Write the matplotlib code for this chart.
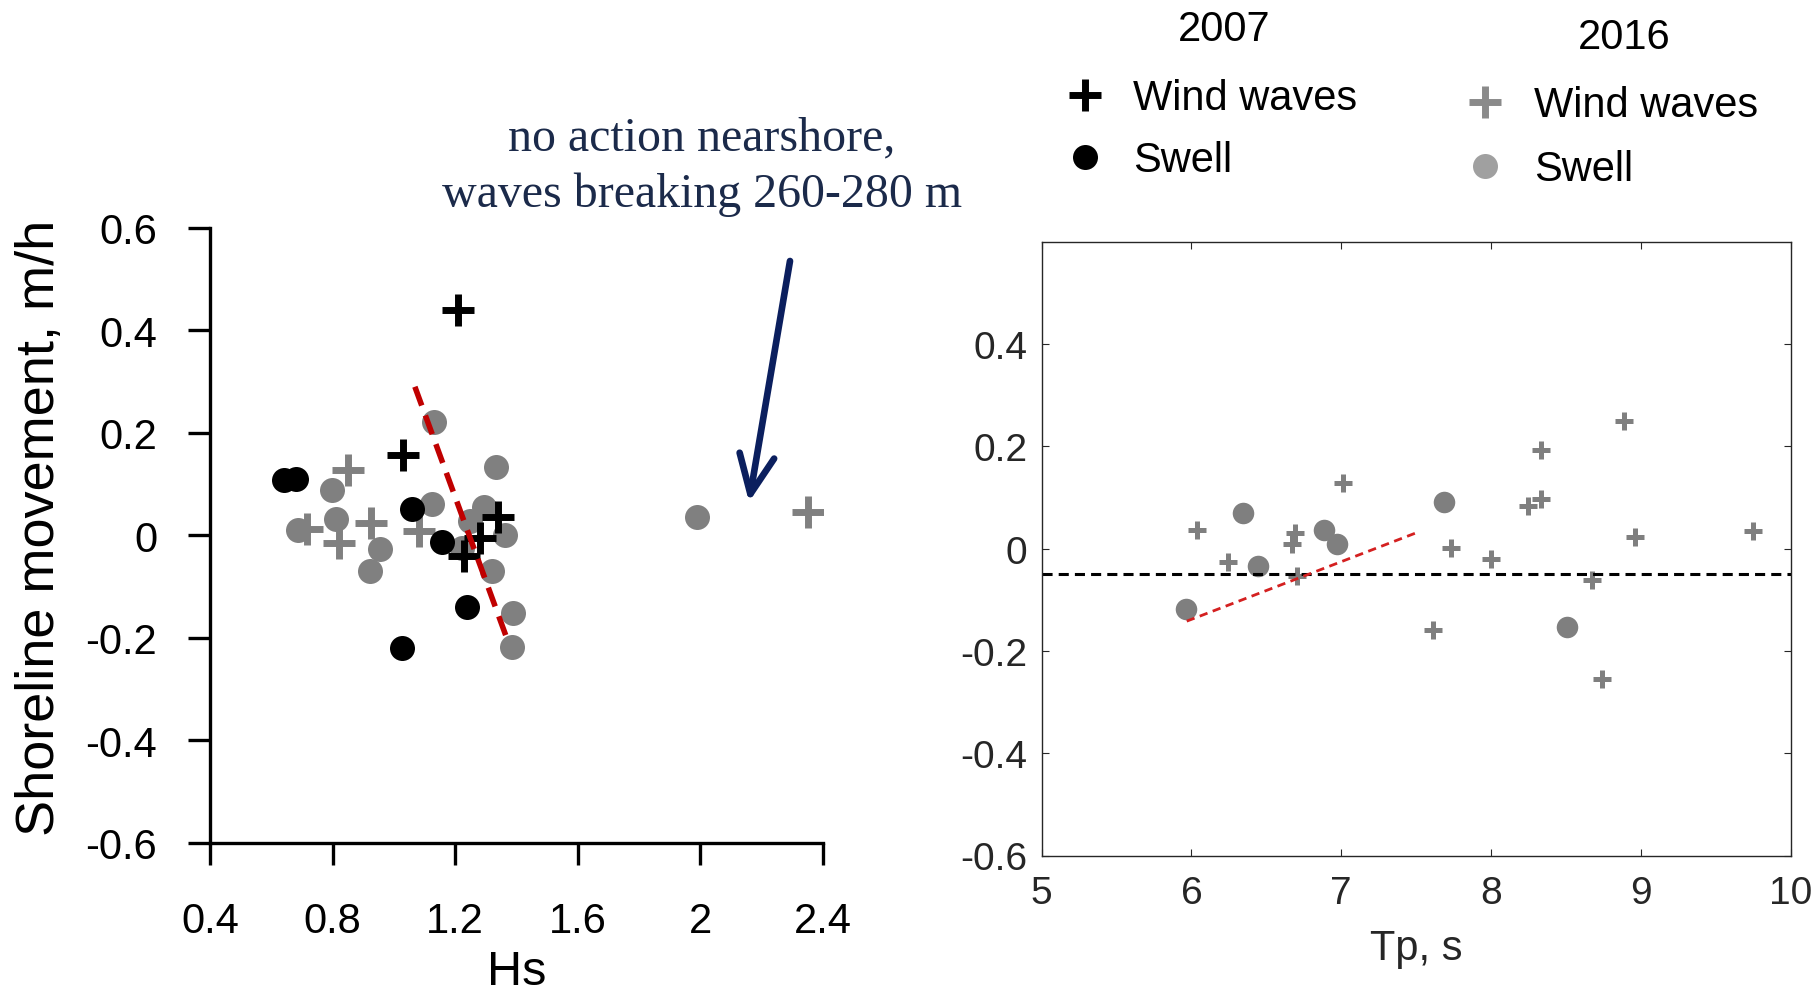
import matplotlib
matplotlib.use("Agg")
import matplotlib.pyplot as plt

plt.rcParams["font.family"] = ["Liberation Sans", "DejaVu Sans"]
plt.rcParams["axes.unicode_minus"] = False

# ---- Shoreline movement vs significant wave height (Hs) ----
hs_wind_2007 = [1.21, 1.03, 1.34, 1.28, 1.23]
sm_wind_2007 = [0.44, 0.157, 0.036, -0.006, -0.04]
hs_swell_2007 = [0.64, 0.68, 1.06, 1.156, 1.24, 1.028]
sm_swell_2007 = [0.107, 0.109, 0.052, -0.014, -0.141, -0.221]
hs_wind_2016 = [0.852, 0.716, 0.821, 0.926, 1.082, 2.354]
sm_wind_2016 = [0.127, 0.013, -0.016, 0.023, 0.008, 0.045]
hs_swell_2016 = [1.131, 1.333, 0.797, 0.688, 0.810, 0.955, 0.922, 1.124,
                 1.295, 1.249, 1.363, 1.222, 1.32, 1.39, 1.385, 1.99]
sm_swell_2016 = [0.221, 0.133, 0.088, 0.010, 0.031, -0.027, -0.070, 0.062,
                 0.055, 0.028, 0.001, -0.024, -0.070, -0.152, -0.218, 0.036]
hs_trend = [1.069, 1.374]
sm_hs_trend = [0.290, -0.209]

# ---- Shoreline movement vs peak period (Tp), 2016 ----
tp_swell = [5.962, 6.344, 6.446, 6.887, 6.969, 7.687, 8.508]
sm_tp_swell = [-0.118, 0.070, -0.035, 0.037, 0.008, 0.090, -0.153]
tp_wind = [6.04, 6.246, 6.693, 6.669, 6.702, 7.013, 7.73, 7.997, 7.614,
           8.886, 8.332, 8.332, 8.248, 8.959, 9.749, 8.67, 8.737]
sm_tp_wind = [0.037, -0.027, 0.031, 0.009, -0.054, 0.128, 0.001, -0.020, -0.160,
              0.249, 0.192, 0.096, 0.084, 0.023, 0.034, -0.061, -0.256]
tp_trend = [5.969, 7.503]
sm_tp_trend = [-0.142, 0.031]
mean_level = -0.049

hs_ticks = [0.4, 0.8, 1.2, 1.6, 2.0, 2.4]
hs_ticklabels = ["0.4", "0.8", "1.2", "1.6", "2", "2.4"]
sm_ticks = [-0.6, -0.4, -0.2, 0.0, 0.2, 0.4, 0.6]
sm_ticklabels = ["-0.6", "-0.4", "-0.2", "0", "0.2", "0.4", "0.6"]
tp_ticks = [5, 6, 7, 8, 9, 10]
tp_ticklabels = ["5", "6", "7", "8", "9", "10"]
sm_ticks_r = [-0.6, -0.4, -0.2, 0.0, 0.2, 0.4]
sm_ticklabels_r = ["-0.6", "-0.4", "-0.2", "0", "0.2", "0.4"]

BLACK = "#000000"
GREY = "#808080"
GREY_R = "#7f7f7f"
NAVY_TEXT = "#1b2a4a"
NAVY_ARROW = "#0b1f5e"

W, H = 1819, 995
fig = plt.figure(figsize=(W / 100, H / 100), dpi=100)

# ---------------- left panel ----------------
axL = fig.add_axes([210 / W, 1 - 843.5 / H, (822.5 - 210) / W, (843.5 - 229.0) / H])
axL.plot(hs_swell_2016, sm_swell_2016, "o", color=GREY, ms=18, mec="none")
axL.plot(hs_wind_2016, sm_wind_2016, "+", color=GREY, ms=23, mew=5)
axL.plot(hs_swell_2007, sm_swell_2007, "o", color=BLACK, ms=18, mec="none")
axL.plot(hs_wind_2007, sm_wind_2007, "+", color=BLACK, ms=23, mew=5)
axL.plot(hs_trend, sm_hs_trend, color="#c00000", lw=4.0,
         linestyle=(0, (3.6, 1.9)), solid_capstyle="butt", dash_capstyle="butt")
axL.set_xlim(0.4, 2.4)
axL.set_ylim(-0.6, 0.6)
axL.set_xticks(hs_ticks)
axL.set_xticklabels(hs_ticklabels)
axL.set_yticks(sm_ticks)
axL.set_yticklabels(sm_ticklabels)
for side in ("top", "right"):
    axL.spines[side].set_visible(False)
for side in ("left", "bottom"):
    axL.spines[side].set_linewidth(2.4)
axL.tick_params(axis="both", direction="out", length=16, width=2.4,
                labelsize=30, colors=BLACK)
axL.tick_params(axis="y", pad=22)
axL.tick_params(axis="x", pad=26)
axL.set_xlabel("Hs", fontsize=35, labelpad=6)
fig.text(40 / W, 1 - 528 / H, "Shoreline movement, m/h", rotation=90,
         ha="center", va="center", fontsize=39)

# ---------------- right panel ----------------
axR = fig.add_axes([1041.5 / W, 1 - 856.5 / H, (1791 - 1041.5) / W, (856.5 - 242.5) / H])
axR.plot(tp_swell, sm_tp_swell, "o", color=GREY_R, ms=15.5, mec="none")
axR.plot(tp_wind, sm_tp_wind, "+", color=GREY_R, ms=13, mew=3.6)
axR.axhline(mean_level, color=BLACK, lw=2.2, linestyle=(0, (3.3, 2.0)))
axR.plot(tp_trend, sm_tp_trend, color="#d42020", lw=2.0, linestyle=(0, (3.0, 2.0)))
axR.set_xlim(5, 10)
axR.set_ylim(-0.6, 0.6)
axR.set_xticks(tp_ticks)
axR.set_xticklabels(tp_ticklabels)
axR.set_yticks(sm_ticks_r)
axR.set_yticklabels(sm_ticklabels_r)
for sp in axR.spines.values():
    sp.set_linewidth(1.0)
    sp.set_color("#262626")
axR.tick_params(axis="both", direction="in", length=5, width=0.8,
                labelsize=28, colors="#262626", top=True, right=True)
axR.tick_params(axis="y", pad=10)
axR.tick_params(axis="x", pad=14)
axR.set_xlabel("Tp, s", fontsize=30, color="#262626", labelpad=12)

# ---------------- legend and annotation (figure pixel coordinates) ----------------
ov = fig.add_axes([0, 0, 1, 1], facecolor="none")
ov.set_xlim(0, W)
ov.set_ylim(H, 0)
ov.axis("off")

ov.text(1224, 30, "2007", ha="center", va="center", fontsize=30)
ov.text(1624, 38, "2016", ha="center", va="center", fontsize=30)
ov.plot([1085], [96], "+", color=BLACK, ms=23, mew=5)
ov.plot([1085], [158], "o", color=BLACK, ms=18, mec="none")
ov.text(1133, 99, "Wind waves", ha="left", va="center", fontsize=30)
ov.text(1133, 161, "Swell", ha="left", va="center", fontsize=30)
ov.plot([1485], [103], "+", color="#8a8a8a", ms=23, mew=5)
ov.plot([1485], [167], "o", color="#a0a0a0", ms=18, mec="none")
ov.text(1534, 106, "Wind waves", ha="left", va="center", fontsize=30)
ov.text(1534, 170, "Swell", ha="left", va="center", fontsize=30)

ov.text(702, 138, "no action nearshore,", ha="center", va="center",
        fontsize=34.5, family="Liberation Serif", color=NAVY_TEXT)
ov.text(702, 195, "waves breaking 260-280 m", ha="center", va="center",
        fontsize=34.5, family="Liberation Serif", color=NAVY_TEXT)
ov.annotate("", xy=(749, 503), xytext=(790, 262),
            arrowprops=dict(arrowstyle="->,head_length=1.0,head_width=0.45",
                            mutation_scale=28, lw=4.8, color=NAVY_ARROW,
                            shrinkA=0, shrinkB=0))

fig.savefig("out.png", dpi=100)
